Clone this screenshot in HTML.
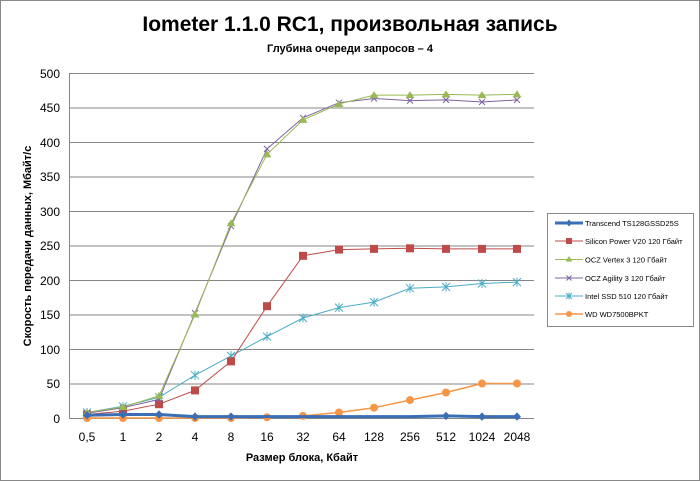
<!DOCTYPE html><html><head><meta charset="utf-8"><style>body{margin:0;background:#fff}svg{display:block;font-family:"Liberation Sans",sans-serif}</style></head><body>
<svg width="700" height="481" xmlns="http://www.w3.org/2000/svg">
<rect x="0.5" y="0.5" width="699" height="480" fill="#fff" stroke="#888"/>
<text x="350" y="31" font-size="21" font-weight="bold" text-anchor="middle">Iometer 1.1.0 RC1, произвольная запись</text>
<text x="350" y="52" font-size="11" font-weight="bold" text-anchor="middle">Глубина очереди запросов – 4</text>
<g stroke="#868686" stroke-width="1">
<line x1="69" y1="73.5" x2="534" y2="73.5"/><line x1="69" y1="108" x2="534" y2="108"/><line x1="69" y1="142.5" x2="534" y2="142.5"/><line x1="69" y1="177" x2="534" y2="177"/><line x1="69" y1="211.5" x2="534" y2="211.5"/><line x1="69" y1="246" x2="534" y2="246"/><line x1="69" y1="280.5" x2="534" y2="280.5"/><line x1="69" y1="315" x2="534" y2="315"/><line x1="69" y1="349.5" x2="534" y2="349.5"/><line x1="69" y1="384" x2="534" y2="384"/>
<line x1="69.5" y1="73" x2="69.5" y2="418"/><line x1="69" y1="418.5" x2="534" y2="418.5"/>
</g>
<g font-size="12" text-anchor="end">
<text x="60" y="78">500</text><text x="60" y="112">450</text><text x="60" y="147">400</text><text x="60" y="181">350</text><text x="60" y="216">300</text><text x="60" y="250">250</text><text x="60" y="285">200</text><text x="60" y="319">150</text><text x="60" y="354">100</text><text x="60" y="388">50</text><text x="60" y="423">0</text>
</g>
<g font-size="12" text-anchor="middle">
<text x="87" y="441">0,5</text><text x="123" y="441">1</text><text x="159" y="441">2</text><text x="195" y="441">4</text><text x="231" y="441">8</text><text x="267" y="441">16</text><text x="303" y="441">32</text><text x="339" y="441">64</text><text x="374" y="441">128</text><text x="410" y="441">256</text><text x="446" y="441">512</text><text x="482" y="441">1024</text><text x="517" y="441">2048</text>
</g>
<text x="302" y="461" font-size="11" font-weight="bold" text-anchor="middle">Размер блока, Кбайт</text>
<text transform="translate(31,246) rotate(-90)" font-size="11" font-weight="bold" text-anchor="middle">Скорость передачи данных, Мбайт/с</text>
<!-- series -->
<polyline fill="none" stroke="#4bacc6" stroke-width="1" points="87,412.5 123,406.3 159,397.3 195,375.2 231,355.9 267,336.6 303,318 339,307.6 374,302.1 410,288.3 446,286.9 482,283.5 517,282.1"/>
<g stroke="#4bacc6" stroke-width="1">
<path d="M83,408.5l8,8M91,408.5l-8,8M87,408v9M119,402.3l8,8M127,402.3l-8,8M123,402v9M155,393.3l8,8M163,393.3l-8,8M159,393v9M191,371.2l8,8M199,371.2l-8,8M195,371v9M227,351.9l8,8M235,351.9l-8,8M231,351v9M263,332.6l8,8M271,332.6l-8,8M267,332v9M299,314l8,8M307,314l-8,8M303,313.5v9M335,303.6l8,8M343,303.6l-8,8M339,303v9M370,298.1l8,8M378,298.1l-8,8M374,297.6v9M406,284.3l8,8M414,284.3l-8,8M410,283.8v9M442,282.9l8,8M450,282.9l-8,8M446,282.4v9M478,279.5l8,8M486,279.5l-8,8M482,279v9M513,278.1l8,8M521,278.1l-8,8M517,277.6v9"/>
</g>
<polyline fill="none" stroke="#be4b48" stroke-width="1" points="87,414.5 123,411.1 159,404.2 195,390.4 231,361.4 267,306.2 303,255.8 339,249.6 374,248.9 410,248.3 446,248.9 482,248.9 517,248.9"/>
<g fill="#be4b48">
<rect x="83" y="410.5" width="8" height="8"/><rect x="119" y="407.1" width="8" height="8"/><rect x="155" y="400.2" width="8" height="8"/><rect x="191" y="386.4" width="8" height="8"/><rect x="227" y="357.4" width="8" height="8"/><rect x="263" y="302.2" width="8" height="8"/><rect x="299" y="251.8" width="8" height="8"/><rect x="335" y="245.6" width="8" height="8"/><rect x="370" y="244.9" width="8" height="8"/><rect x="406" y="244.3" width="8" height="8"/><rect x="442" y="244.9" width="8" height="8"/><rect x="478" y="244.9" width="8" height="8"/><rect x="513" y="244.9" width="8" height="8"/>
</g>
<polyline fill="none" stroke="#7f63a1" stroke-width="1" points="87,413.2 123,407.7 159,399.4 195,313.1 231,226.2 267,148.9 303,117.8 339,102.7 374,98.5 410,100.6 446,99.9 482,102 517,99.9"/>
<g stroke="#7f63a1" stroke-width="1">
<path d="M84,410.2l6,6M90,410.2l-6,6M120,404.7l6,6M126,404.7l-6,6M156,396.4l6,6M162,396.4l-6,6M192,310.1l6,6M198,310.1l-6,6M228,223.2l6,6M234,223.2l-6,6M264,145.9l6,6M270,145.9l-6,6M300,114.8l6,6M306,114.8l-6,6M336,99.7l6,6M342,99.7l-6,6M371,95.5l6,6M377,95.5l-6,6M407,97.6l6,6M413,97.6l-6,6M443,96.9l6,6M449,96.9l-6,6M479,99l6,6M485,99l-6,6M514,96.9l6,6M520,96.9l-6,6"/>
</g>
<polyline fill="none" stroke="#98b954" stroke-width="1" points="87,412.5 123,407 159,395.9 195,314.5 231,223.4 267,154.4 303,119.9 339,104 374,95.1 410,95.1 446,94.4 482,95.1 517,94.4"/>
<g fill="#98b954">
<path d="M87,408.5l4.5,7h-9zM123,403l4.5,7h-9zM159,391.9l4.5,7h-9zM195,310.5l4.5,7h-9zM231,219.4l4.5,7h-9zM267,150.4l4.5,7h-9zM303,115.9l4.5,7h-9zM339,100l4.5,7h-9zM374,91.1l4.5,7h-9zM410,91.1l4.5,7h-9zM446,90.4l4.5,7h-9zM482,91.1l4.5,7h-9zM517,90.4l4.5,7h-9z"/>
</g>
<polyline fill="none" stroke="#f79646" stroke-width="1.5" points="87,418 123,418 159,418 195,418 231,418 267,417.3 303,415.9 339,412.5 374,407.7 410,400.1 446,392.5 482,383.5 517,383.5"/>
<g fill="#f79646">
<circle cx="87" cy="418" r="4"/><circle cx="123" cy="418" r="4"/><circle cx="159" cy="418" r="4"/><circle cx="195" cy="418" r="4"/><circle cx="231" cy="418" r="4"/><circle cx="267" cy="417.3" r="4"/><circle cx="303" cy="415.9" r="4"/><circle cx="339" cy="412.5" r="4"/><circle cx="374" cy="407.7" r="4"/><circle cx="410" cy="400.1" r="4"/><circle cx="446" cy="392.5" r="4"/><circle cx="482" cy="383.5" r="4"/><circle cx="517" cy="383.5" r="4"/>
</g>
<polyline fill="none" stroke="#3a6eb5" stroke-width="3" points="87,415.2 123,414.5 159,414.5 195,416.6 231,416.6 267,416.6 303,416.6 339,416.6 374,416.6 410,416.6 446,415.9 482,416.6 517,416.6"/>
<g fill="#3a6eb5">
<path d="M87,411l4,4.2l-4,4.2l-4,-4.2zM123,410.3l4,4.2l-4,4.2l-4,-4.2zM159,410.3l4,4.2l-4,4.2l-4,-4.2zM195,412.4l4,4.2l-4,4.2l-4,-4.2zM231,412.4l4,4.2l-4,4.2l-4,-4.2zM446,411.7l4,4.2l-4,4.2l-4,-4.2zM482,412.4l4,4.2l-4,4.2l-4,-4.2zM517,412.4l4,4.2l-4,4.2l-4,-4.2z"/>
</g>
<!-- legend -->
<rect x="547.5" y="213.5" width="146" height="113" fill="#fff" stroke="#888"/>
<g font-size="7.5">
<line x1="555" y1="223" x2="583" y2="223" stroke="#3a6eb5" stroke-width="3"/><path d="M569,219.5l3,3.5l-3,3.5l-3,-3.5z" fill="#3a6eb5"/><text x="585" y="226">Transcend TS128GSSD25S</text>
<line x1="555" y1="241" x2="583" y2="241" stroke="#be4b48"/><rect x="566" y="238" width="6" height="6" fill="#be4b48"/><text x="585" y="244">Silicon Power V20 120 Гбайт</text>
<line x1="555" y1="259.5" x2="583" y2="259.5" stroke="#98b954"/><path d="M569,256l3.5,5.5h-7z" fill="#98b954"/><text x="585" y="262.5">OCZ Vertex 3 120 Гбайт</text>
<line x1="555" y1="278" x2="583" y2="278" stroke="#7f63a1"/><path d="M566.5,275.5l5,5M571.5,275.5l-5,5" stroke="#7f63a1"/><text x="585" y="281">OCZ Agility 3 120 Гбайт</text>
<line x1="555" y1="296" x2="583" y2="296" stroke="#4bacc6"/><path d="M566,293l6,6M572,293l-6,6M569,292.5v7" stroke="#4bacc6"/><text x="585" y="299">Intel SSD 510 120 Гбайт</text>
<line x1="555" y1="314" x2="583" y2="314" stroke="#f79646" stroke-width="1.5"/><circle cx="569" cy="314" r="3" fill="#f79646"/><text x="585" y="317">WD WD7500BPKT</text>
</g>
</svg>
</body></html>
